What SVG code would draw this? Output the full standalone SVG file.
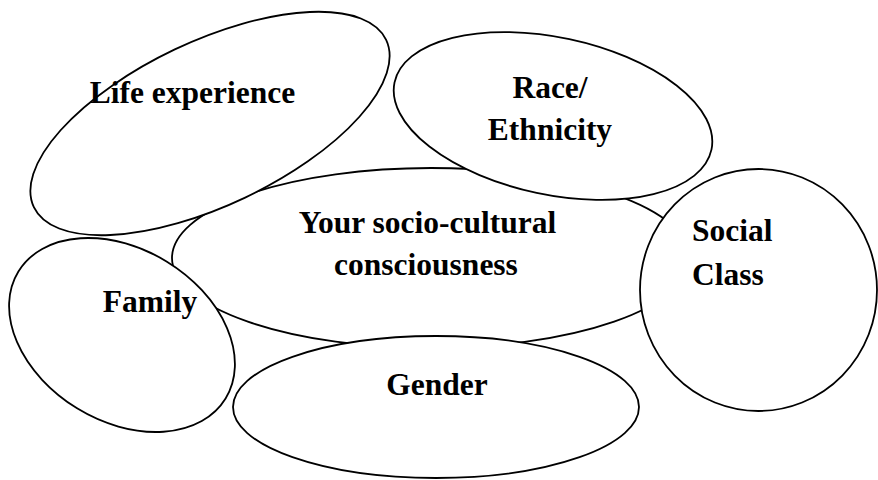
<svg xmlns="http://www.w3.org/2000/svg" width="878" height="480" viewBox="0 0 878 480">
  <style>
    .bubble { fill: #ffffff; stroke: #000000; stroke-width: 1.8; }
    .label { font-family: "Liberation Serif", "Times New Roman", serif; font-weight: bold; font-size: 31.5px; fill: #000000; }
    .mid { text-anchor: middle; }
  </style>
  <rect width="878" height="480" fill="#ffffff"/>
  <!-- no connectors: the influences are shown as overlapping bubbles -->
  <g id="connectors"/>

  <!-- central bubble, drawn first so the others overlap it -->
  <g id="consciousness">
    <ellipse class="bubble" cx="431" cy="258" rx="259" ry="90"/>
    <text class="label mid" x="427.5" y="232.7">Your socio-cultural</text>
    <text class="label mid" x="426" y="275">consciousness</text>
  </g>

  <g id="life-experience">
    <ellipse class="bubble" cx="210" cy="123.5" rx="195" ry="82" transform="rotate(-25.4 210 123.5)"/>
    <text class="label mid" x="192.5" y="103.3">Life experience</text>
  </g>

  <g id="race-ethnicity">
    <ellipse class="bubble" cx="553" cy="116" rx="162" ry="78.6" transform="rotate(12 553 116)"/>
    <text class="label mid" x="550" y="98.3">Race/</text>
    <text class="label mid" x="550" y="140">Ethnicity</text>
  </g>

  <g id="family">
    <ellipse class="bubble" cx="122" cy="335" rx="121.5" ry="86" transform="rotate(31.5 122 335)"/>
    <text class="label mid" x="150" y="311.7">Family</text>
  </g>

  <g id="gender">
    <ellipse class="bubble" cx="436" cy="407" rx="203" ry="71"/>
    <text class="label mid" x="437" y="395">Gender</text>
  </g>

  <g id="social-class">
    <ellipse class="bubble" cx="758.5" cy="290" rx="118.5" ry="121"/>
    <text class="label" x="692" y="241">Social</text>
    <text class="label" x="692" y="285">Class</text>
  </g>
</svg>
